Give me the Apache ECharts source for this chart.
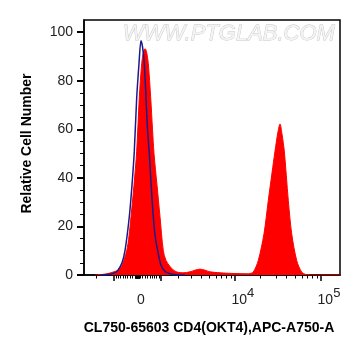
<!DOCTYPE html>
<html>
<head>
<meta charset="utf-8">
<script src="https://cdn.jsdelivr.net/npm/echarts@6/dist/echarts.min.js"></script>
<style>
html,body{margin:0;padding:0;background:#fff;}
#c{width:361px;height:356px;}
</style>
</head>
<body>
<div id="c"></div>
<script>
// ---- data (x in display units of the biexponential axis, 0 = zero) ----
var sampleX = [-42.5,-35.5,-29.5,-24.5,-19.5,-15.5,-10.8,-8.5,-6.5,-3.5,-0.8,1.8,4.2,6,7.5,9,10.8,13.2,15,16.5,19.5,22.5,25.8,28.5,32.5,35.5,39.5,45.5,52.5,57.5,62.5,67.5,72.5,82.5,97.5,109.5,112.5,115.8,120.8,126.5,130.8,134.5,137.5,140.5,142.5,144.5,146.8,150.8,154.2,159.2,164.2,168.5,177.5,202.5];
var sampleY = [0,0.2,0.6,1.2,2,4,10,16,24,37,51,73,87,92,93.2,92,87,73,60,50,37,24,10,6,3.5,2.2,1.2,0.9,1.3,2,2.4,2,1.3,0.9,0.6,0.5,0.6,1.2,6,17,30.7,42,51,59,62.2,58,51,30.7,17,6,1.2,0.2,0,0];
var controlX = [-37.5,-27.5,-22.5,-19.5,-15.5,-12.5,-8.2,-5.5,-3.2,-0.8,1.5,3.5,5,6.8,8.5,10,11.8,13.5,15.8,18,20.2,23.5,27.5,32.5,38.5,47.5];
var controlY = [0,0.3,1,2,5,10,24,37,51,73,87,96.5,94,87,73,60,50,38,24,15,10,4,1.5,0.5,0.1,0];

var yMajorTicks = [0,20,40,60,80,100];
var yMinorTicks = [5,10,15,25,30,35,45,50,55,65,70,75,85,90,95];
var xMajorTickValues = [-1000,1000,10000,100000];
var xLabelValues = [0,10000,100000];
var xLabelTexts = ['{b|0}','{p|}{b|10}{s|4}','{p|}{b|10}{s|5}'];
var xMinorTickValues = [-3000,-2000,-900,-800,-700,-600,-500,-400,-300,-200,-100,-90,-80,-70,-60,-50,-40,-30,-20,-10,0,10,20,30,40,50,60,70,80,90,100,200,300,400,500,600,700,800,900,2000,3000,4000,5000,6000,7000,8000,9000,20000,30000,40000,50000,60000,70000,80000,90000];

// biexponential-like display transform
function disp(v){ return 37.5 * Math.asinh(v / 1500); }
function pairs(xs, ys){ return xs.map(function(x,i){ return [x, ys[i]]; }); }

var XMIN = -53.5, XMAX = 202.5, YMAX = 105;
var FONT = "'Liberation Sans', Arial, sans-serif";
var xLabelPos = xLabelValues.map(disp);

var chart = echarts.init(document.getElementById('c'), null, {renderer:'canvas'});
chart.setOption({
  animation:false,
  grid:[
    {left:84, top:20, right:21, bottom:81, show:true, borderColor:'#000', borderWidth:1.5, backgroundColor:'transparent'},
    {left:84, top:20, right:21, bottom:81, show:false}
  ],
  xAxis:[
    {type:'value', gridIndex:0, min:XMIN, max:XMAX, position:'bottom',
     axisLine:{show:true, onZero:false, lineStyle:{color:'#000', width:1.5}},
     axisTick:{show:true, customValues:xMajorTickValues.map(disp), length:6, lineStyle:{color:'#000', width:1.5}},
     splitLine:{show:false},
     axisLabel:{show:true, customValues:xLabelPos, margin:12, padding:[0,0,0,7],
       formatter:function(v){
         var best=0, d=1e9;
         xLabelPos.forEach(function(p,i){ if(Math.abs(p-v)<d){d=Math.abs(p-v);best=i;} });
         return xLabelTexts[best];
       },
       rich:{
         p:{width:9, height:1},
         b:{fontFamily:FONT, fontSize:14, color:'#222', lineHeight:20, verticalAlign:'bottom'},
         s:{fontFamily:FONT, fontSize:13, color:'#222', lineHeight:12, verticalAlign:'top'}
       }}
    },
    {type:'value', gridIndex:1, min:XMIN, max:XMAX, position:'bottom',
     axisLine:{show:false, onZero:false},
     axisTick:{show:true, customValues:xMinorTickValues.map(disp), length:3.5, lineStyle:{color:'#000', width:1}},
     axisLabel:{show:false}, splitLine:{show:false}}
  ],
  yAxis:[
    {type:'value', gridIndex:0, min:0, max:YMAX, position:'left',
     axisLine:{show:true, onZero:false, lineStyle:{color:'#000', width:1.5}},
     axisTick:{show:true, customValues:yMajorTicks, length:7, lineStyle:{color:'#000', width:2}},
     axisLabel:{show:true, customValues:yMajorTicks, margin:11, fontFamily:FONT, fontSize:14, color:'#222'},
     splitLine:{show:false}},
    {type:'value', gridIndex:1, min:0, max:YMAX, position:'left',
     axisLine:{show:false, onZero:false},
     axisTick:{show:true, customValues:yMinorTicks, length:4, lineStyle:{color:'#000', width:1}},
     axisLabel:{show:false}, splitLine:{show:false}}
  ],
  graphic:[
    {type:'text', z:0, x:229, y:34, style:{text:'WWW.PTGLAB.COM', font:"italic 22px "+FONT, fill:'#f4f4f4', stroke:'#c4c4c4', lineWidth:0.8, textAlign:'center', textVerticalAlign:'middle'}},
    {type:'text', x:27.5, y:143.5, rotation:Math.PI/2, style:{text:'Relative Cell Number', font:"bold 14px "+FONT, fill:'#000', textAlign:'center', textVerticalAlign:'middle'}},
    {type:'text', x:209, y:328, style:{text:'CL750-65603 CD4(OKT4),APC-A750-A', font:"bold 14px "+FONT, fill:'#000', textAlign:'center', textVerticalAlign:'middle'}}
  ],
  series:[
    {type:'line', name:'sample', xAxisIndex:0, yAxisIndex:0, data:pairs(sampleX, sampleY), smooth:0.3, symbol:'none',
     lineStyle:{color:'#ff0000', width:1}, areaStyle:{color:'#ff0000', opacity:1}, z:3},
    {type:'line', name:'control', xAxisIndex:0, yAxisIndex:0, data:pairs(controlX, controlY), smooth:0.3, symbol:'none',
     lineStyle:{color:'#1a1a8c', width:1.5}, z:4}
  ]
});
</script>
</body>
</html>
